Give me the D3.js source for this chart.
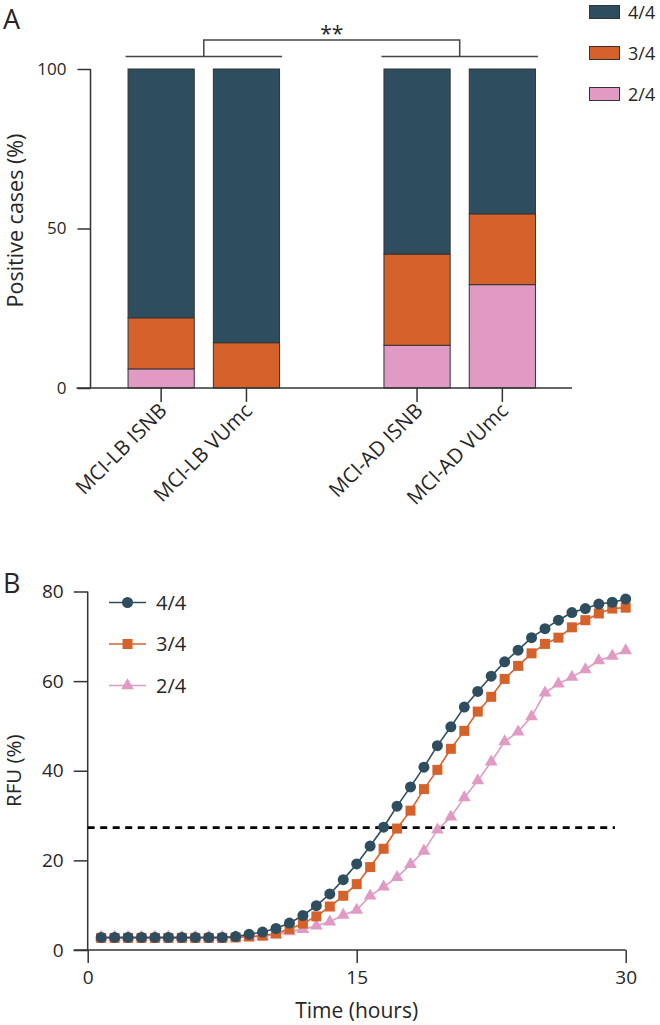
<!DOCTYPE html>
<html>
<head>
<meta charset="utf-8">
<script src="https://cdn.jsdelivr.net/npm/d3@7"></script>
<style>
  html, body { margin: 0; padding: 0; background: #fff; }
  svg { display: block; font-family: "Open Sans", sans-serif; }
</style>
</head>
<body>
<script>
// ---------- Panel A data ----------
const categories = ["MCI-LB ISNB", "MCI-LB VUmc", "", "MCI-AD ISNB", "MCI-AD VUmc"];
const levels = ["2/4", "3/4", "4/4"];
const pct24 = [6, 0, null, 13.4, 32.4];
const pct34 = [16, 14.2, null, 28.6, 22.2];
const pct44 = [78, 85.8, null, 58, 45.4];
const yTicksA = [0, 50, 100];
const sigLabel = "**";

// ---------- Panel B data ----------
const timeHours = [0.75, 1.5, 2.25, 3, 3.75, 4.5, 5.25, 6, 6.75, 7.5,
  8.25, 9, 9.75, 10.5, 11.25, 12, 12.75, 13.5, 14.25, 15,
  15.75, 16.5, 17.25, 18, 18.75, 19.5, 20.25, 21, 21.75, 22.5,
  23.25, 24, 24.75, 25.5, 26.25, 27, 27.75, 28.5, 29.25, 30];
const rfu44 = [2.8, 2.8, 2.8, 2.8, 2.8, 2.8, 2.8, 2.8, 2.8, 2.8,
  3.0, 3.5, 4.0, 4.8, 6.0, 7.7, 9.9, 12.5, 15.7, 19.2,
  23.2, 27.4, 32.1, 36.4, 40.8, 45.6, 49.8, 54.2, 57.7, 61.1,
  64.3, 66.9, 69.7, 71.7, 73.6, 75.3, 76.2, 77.2, 77.6, 78.3];
const rfu34 = [2.7, 2.7, 2.7, 2.7, 2.7, 2.7, 2.7, 2.7, 2.7, 2.7,
  2.8, 3.0, 3.2, 3.7, 4.7, 5.9, 7.5, 9.7, 12.1, 14.7,
  18.5, 22.6, 27.1, 31.1, 35.9, 40.2, 44.9, 48.9, 53.2, 56.5,
  60.5, 63.4, 66.2, 68.3, 69.7, 72.0, 73.6, 75.1, 76.2, 76.4];
const rfu24 = [2.9, 2.9, 2.9, 2.9, 2.9, 2.9, 2.9, 2.9, 2.9, 2.9,
  2.9, 2.9, 3.0, 3.4, 4.1, 4.6, 5.4, 6.3, 7.8, 8.9,
  12.1, 14.1, 16.2, 19.1, 22.1, 26.8, 29.7, 34.0, 37.8, 42.0,
  46.5, 48.7, 52.1, 57.4, 59.4, 60.9, 62.6, 64.6, 65.6, 66.8];
const threshold = 27.3;
const yTicksB = [0, 20, 40, 60, 80];
const xTicksB = [0, 15, 30];

const colors = { "4/4": "#2e4e60", "3/4": "#d5622b", "2/4": "#e09ac3" };
const textColor = "#262626";
const axisColor = "#333";

const W = 660, H = 1025;
const svg = d3.select("body").append("svg").attr("width", W).attr("height", H);

// ================= Panel A =================
const gA = svg.append("g");
const xA = d3.scaleBand().domain(categories).range([118.5, 545])
  .paddingInner(0.224).paddingOuter(0.112);
const yA = d3.scaleLinear().domain([0, 100]).range([388, 69]);

const rows = categories.map((c, i) => ({ cat: c, "2/4": pct24[i], "3/4": pct34[i], "4/4": pct44[i] }))
  .filter(r => r.cat !== "");
const stack = d3.stack().keys(levels).value((d, k) => d[k] || 0);
const series = stack(rows);

series.forEach(s => {
  gA.append("g").selectAll("rect").data(s.filter(d => d[1] - d[0] > 0)).join("rect")
    .attr("x", d => xA(d.data.cat))
    .attr("width", xA.bandwidth())
    .attr("y", d => yA(d[1]))
    .attr("height", d => yA(d[0]) - yA(d[1]))
    .attr("fill", colors[s.key])
    .attr("stroke", "#333")
    .attr("stroke-width", 1);
});

// y axis A
const axA = gA.append("g").attr("transform", "translate(90.5,0)")
  .call(d3.axisLeft(yA).tickValues(yTicksA).tickSize(13).tickPadding(11));
axA.select(".domain").attr("d", `M0,${yA(100)}V${yA(0)}`);
// x axis A
const xAxA = gA.append("g").attr("transform", `translate(0,${yA(0)})`)
  .call(d3.axisBottom(xA).tickValues(categories.filter(c => c !== "")).tickSize(14).tickFormat(""));
xAxA.select(".domain").attr("d", `M76.5,0H572`);
[axA, xAxA].forEach(a => {
  a.selectAll("path, line").attr("stroke", axisColor).attr("stroke-width", 1.5);
  a.selectAll("text").attr("fill", textColor).attr("font-size", 17).attr("font-family", "Open Sans");
});
// rotated category labels
gA.append("g").selectAll("text").data(categories.filter(c => c !== "")).join("text")
  .attr("transform", d => `translate(${xA(d) + xA.bandwidth() / 2 + 7},${yA(0) + 24}) rotate(-45)`)
  .attr("text-anchor", "end")
  .attr("font-size", 20.5)
  .attr("fill", textColor)
  .text(d => d);

// y title A
gA.append("text")
  .attr("transform", `translate(23,${yA(50) - 8}) rotate(-90)`)
  .attr("text-anchor", "middle")
  .attr("font-size", 21.5)
  .attr("fill", textColor)
  .text("Positive cases (%)");

// significance brackets
const grpL = [xA("MCI-LB ISNB") - 2.5, xA("MCI-LB VUmc") + xA.bandwidth() + 2.5];
const grpR = [xA("MCI-AD ISNB") - 2.5, xA("MCI-AD VUmc") + xA.bandwidth() + 2.5];
const yGrp = 56.5, yTop = 40;
const midL = (grpL[0] + grpL[1]) / 2, midR = (grpR[0] + grpR[1]) / 2;
const br = gA.append("g").attr("stroke", "#444").attr("stroke-width", 1.5).attr("fill", "none");
br.append("line").attr("x1", grpL[0]).attr("x2", grpL[1]).attr("y1", yGrp).attr("y2", yGrp);
br.append("line").attr("x1", grpR[0]).attr("x2", grpR[1]).attr("y1", yGrp).attr("y2", yGrp);
br.append("path").attr("d", `M${midL},${yGrp}V${yTop}H${midR}V${yGrp}`);
gA.append("text").attr("x", (midL + midR) / 2).attr("y", 41)
  .attr("text-anchor", "middle").attr("font-size", 21).attr("fill", textColor).text(sigLabel);

// legend A
const legA = gA.append("g");
["4/4", "3/4", "2/4"].forEach((k, i) => {
  const y0 = 5.5 + i * 41;
  legA.append("rect").attr("x", 589.5).attr("y", y0).attr("width", 30).attr("height", 13)
    .attr("fill", colors[k]).attr("stroke", "#333").attr("stroke-width", 1);
  legA.append("text").attr("x", 628).attr("y", y0 + 13.5).attr("font-size", 18)
    .attr("fill", textColor).text(k);
});

// panel letter A
svg.append("text").attr("x", 3).attr("y", 28.5).attr("font-size", 27).attr("fill", textColor).text("A");

// ================= Panel B =================
const gB = svg.append("g");
const xB = d3.scaleLinear().domain([0, 30]).range([87.7, 625.7]);
const yB = d3.scaleLinear().domain([0, 80]).range([950, 591.5]);

const axYB = gB.append("g").attr("transform", `translate(${xB(0)},0)`)
  .call(d3.axisLeft(yB).tickValues(yTicksB).tickSize(14).tickPadding(10));
axYB.select(".domain").attr("d", `M0,${yB(80)}V${yB(0)}`);
const axXB = gB.append("g").attr("transform", `translate(0,${yB(0)})`)
  .call(d3.axisBottom(xB).tickValues(xTicksB).tickSize(13).tickPadding(8));
axXB.select(".domain").attr("d", `M${xB(0) - 14},0H${xB(30)}`);
[axYB, axXB].forEach(a => {
  a.selectAll("path, line").attr("stroke", axisColor).attr("stroke-width", 1.5);
  a.selectAll("text").attr("fill", textColor).attr("font-size", 19).attr("font-family", "Open Sans");
});

// threshold
gB.append("line").attr("x1", xB(0)).attr("x2", xB(29.4))
  .attr("y1", yB(threshold)).attr("y2", yB(threshold))
  .attr("stroke", "#000").attr("stroke-width", 2.8).attr("stroke-dasharray", "7,5.5");

const seriesB = [
  { key: "2/4", values: rfu24, shape: d3.symbolTriangle, size: 70 },
  { key: "3/4", values: rfu34, shape: d3.symbolSquare, size: 100 },
  { key: "4/4", values: rfu44, shape: d3.symbolCircle, size: 95 }
];
const line = d3.line().x((d, i) => xB(timeHours[i])).y(d => yB(d));
seriesB.forEach(s => {
  const g = gB.append("g");
  g.append("path").datum(s.values).attr("d", line)
    .attr("fill", "none").attr("stroke", colors[s.key]).attr("stroke-width", 1.6);
  g.selectAll("path.m").data(s.values).join("path").attr("class", "m")
    .attr("transform", (d, i) => `translate(${xB(timeHours[i])},${yB(d)})`)
    .attr("d", d3.symbol().type(s.shape).size(s.size))
    .attr("fill", colors[s.key]);
});

// legend B
const legB = gB.append("g");
[{ key: "4/4", shape: d3.symbolCircle, size: 95 },
 { key: "3/4", shape: d3.symbolSquare, size: 100 },
 { key: "2/4", shape: d3.symbolTriangle, size: 70 }].forEach((s, i) => {
  const y0 = 602.5 + i * 41.5;
  legB.append("line").attr("x1", 109).attr("x2", 146).attr("y1", y0).attr("y2", y0)
    .attr("stroke", colors[s.key]).attr("stroke-width", 1.6);
  legB.append("path").attr("transform", `translate(127.5,${y0})`)
    .attr("d", d3.symbol().type(s.shape).size(s.size)).attr("fill", colors[s.key]);
  legB.append("text").attr("x", 156).attr("y", y0 + 7).attr("font-size", 20)
    .attr("fill", textColor).text(s.key);
});

// titles B
gB.append("text").attr("transform", `translate(21,${yB(40)}) rotate(-90)`)
  .attr("text-anchor", "middle").attr("font-size", 20.5).attr("fill", textColor).text("RFU (%)");
gB.append("text").attr("x", xB(15)).attr("y", 1018)
  .attr("text-anchor", "middle").attr("font-size", 21).attr("fill", textColor).text("Time (hours)");

svg.append("text").attr("x", 3).attr("y", 593).attr("font-size", 27).attr("fill", textColor).text("B");
</script>
</body>
</html>
